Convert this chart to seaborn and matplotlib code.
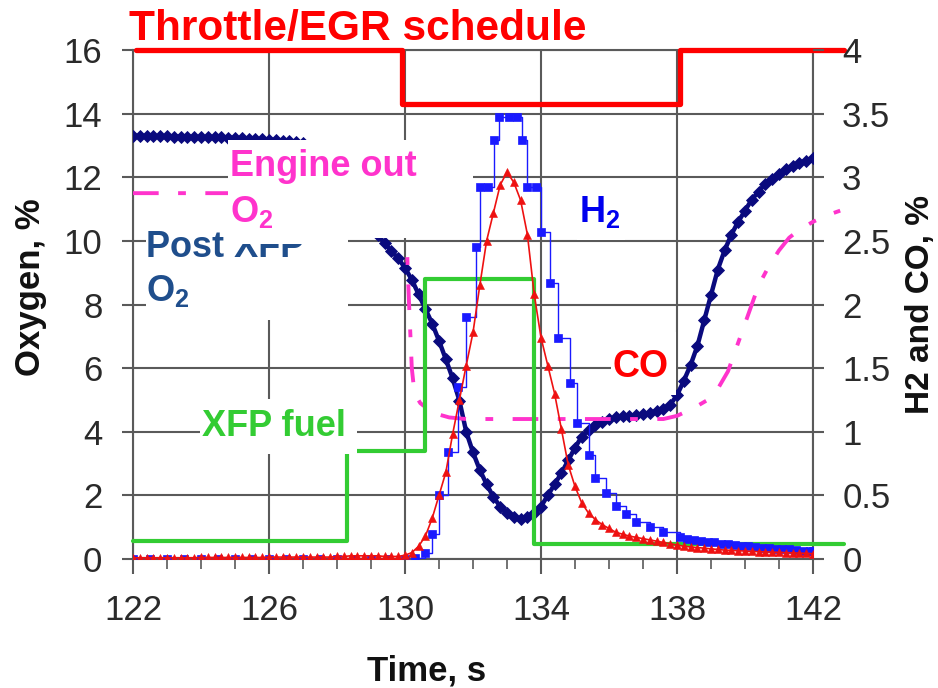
import numpy as np
import matplotlib
matplotlib.use("Agg")
import matplotlib.pyplot as plt
import seaborn as sns
from matplotlib.patches import Rectangle

# ---------------- data ----------------
# Post XFP O2 (left axis, %), sampled every 0.2 s from 122 s to 142 s
o2_post_time = np.round(np.arange(122.0, 142.001, 0.2), 1)
o2_post = [
    13.30, 13.30, 13.30, 13.29, 13.29,
    13.29, 13.28, 13.28, 13.27, 13.27,
    13.26, 13.26, 13.25, 13.25, 13.24,
    13.23, 13.22, 13.21, 13.20, 13.19,
    13.18, 13.17, 13.15, 13.13, 13.11,
    13.08, 12.92, 12.70, 12.45, 12.18,
    11.90, 11.62, 11.34, 11.06, 10.78,
    10.50, 10.20, 9.92, 9.68, 9.45,
    9.15, 8.78, 8.32, 7.86, 7.40,
    6.86, 6.28, 5.68, 4.98, 4.00,
    3.35, 2.80, 2.35, 1.95, 1.65,
    1.45, 1.32, 1.27, 1.32, 1.45,
    1.65, 2.00, 2.35, 2.70, 3.10,
    3.50, 3.85, 4.05, 4.20, 4.32,
    4.40, 4.45, 4.48, 4.50, 4.52,
    4.55, 4.60, 4.65, 4.72, 4.85,
    5.15, 5.60, 6.10, 6.70, 7.50,
    8.30, 9.10, 9.70, 10.20, 10.60,
    10.95, 11.30, 11.55, 11.80, 11.95,
    12.10, 12.25, 12.35, 12.45, 12.52,
    12.60,
]

# CO (right axis, %), same sampling
co_time = o2_post_time
co = [
    0.010, 0.010, 0.010, 0.010, 0.010,
    0.010, 0.010, 0.010, 0.010, 0.010,
    0.012, 0.012, 0.012, 0.012, 0.012,
    0.012, 0.012, 0.012, 0.012, 0.012,
    0.015, 0.015, 0.015, 0.015, 0.015,
    0.015, 0.015, 0.015, 0.015, 0.015,
    0.020, 0.020, 0.025, 0.025, 0.025,
    0.025, 0.025, 0.020, 0.020, 0.020,
    0.03, 0.05, 0.10, 0.18, 0.32,
    0.50, 0.68, 0.98, 1.25, 1.52,
    1.78, 2.15, 2.50, 2.72, 2.94,
    3.04, 2.96, 2.82, 2.55, 2.08,
    1.74, 1.52, 1.30, 1.02, 0.74,
    0.57, 0.44, 0.36, 0.31, 0.27,
    0.24, 0.21, 0.195, 0.18, 0.17,
    0.16, 0.15, 0.14, 0.13, 0.12,
    0.11, 0.10, 0.095, 0.09, 0.085,
    0.08, 0.075, 0.07, 0.068, 0.065,
    0.062, 0.06, 0.058, 0.056, 0.054,
    0.052, 0.05, 0.048, 0.046, 0.044,
    0.042,
]

# H2 (right axis, %), analyser output held between updates
h2_time = [122.0, 122.5, 123.0, 123.5, 124.0, 124.5, 125.0, 125.5, 126.0,
           126.5, 127.0, 127.5, 128.0, 128.5, 129.0, 129.5, 130.0, 130.3,
           130.6, 130.8, 131.0, 131.26, 131.56, 131.8, 132.1, 132.2, 132.45,
           132.62, 132.75, 133.05, 133.3, 133.45, 133.6, 133.85, 134.0,
           134.26, 134.5, 134.85, 135.06, 135.4, 135.6, 135.9, 136.2, 136.5,
           136.8, 137.2, 137.6, 138.1, 138.3, 138.5, 138.7, 138.9, 139.1,
           139.3, 139.5, 139.7, 139.9, 140.1, 140.3, 140.5, 140.7, 140.9,
           141.1, 141.3, 141.5, 141.7, 141.9, 142.0]
h2 = [0.0, 0.0, 0.0, 0.0, 0.0, 0.0, 0.0, 0.0, 0.0,
      0.0, 0.0, 0.0, 0.0, 0.0, 0.0, 0.0, 0.0, 0.01,
      0.05, 0.20, 0.50, 0.84, 1.35, 1.90, 2.45, 2.92, 2.92,
      3.29, 3.47, 3.47, 3.47, 3.29, 2.92, 2.92, 2.57,
      2.17, 1.74, 1.38, 1.07, 0.82, 0.64, 0.52, 0.42, 0.35,
      0.29, 0.25, 0.21, 0.17, 0.16, 0.15, 0.14, 0.135, 0.13,
      0.12, 0.115, 0.11, 0.105, 0.10, 0.095, 0.09, 0.085, 0.08,
      0.078, 0.075, 0.07, 0.066, 0.062, 0.06]

# Engine out O2 (left axis, %)
eo_time = [122.0, 129.95, 130.05, 130.12, 130.2, 130.28, 130.45, 130.8,
           131.3, 131.8, 137.6, 138.0, 138.5, 138.9, 139.2, 139.5, 139.8,
           140.1, 140.4, 140.7, 141.0, 141.3, 141.6, 142.0, 142.4, 142.8]
eo_o2 = [11.5, 11.5, 10.0, 8.0, 6.0, 5.2, 4.9, 4.6,
         4.45, 4.4, 4.4, 4.5, 4.75, 5.0, 5.35, 5.9, 6.8,
         7.7, 8.6, 9.2, 9.7, 10.1, 10.35, 10.6, 10.8, 10.95]

# XFP fuel schedule (arbitrary, plotted on left scale)
fuel_time = [122.0, 128.3, 130.6, 133.8, 142.9]
fuel = [0.57, 3.4, 8.8, 0.47, 0.47]

# Throttle / EGR schedule (arbitrary, plotted on left scale)
thr_time = [122.1, 129.9, 138.1, 142.9]
thr = [16.0, 14.3, 16.0, 16.0]

x_ticks = [122, 126, 130, 134, 138, 142]
x_minor = list(range(122, 143))
left_ticks = [0, 2, 4, 6, 8, 10, 12, 14, 16]
right_ticks = [0, 0.5, 1, 1.5, 2, 2.5, 3, 3.5, 4]
right_labels = ["0", "0.5", "1", "1.5", "2", "2.5", "3", "3.5", "4"]

# ---------------- style ----------------
sns.set_style("white")
plt.rcParams['font.family'] = ['Liberation Sans', 'DejaVu Sans']
plt.rcParams['mathtext.fontset'] = 'custom'
plt.rcParams['mathtext.rm'] = 'Liberation Sans:bold'
plt.rcParams['mathtext.bf'] = 'Liberation Sans:bold'
plt.rcParams['mathtext.it'] = 'Liberation Sans:bold'

W, H = 938, 688
L, R, T, B = 133, 813, 50, 559
fig = plt.figure(figsize=(W / 100, H / 100), dpi=100, facecolor='white')
ax = fig.add_axes([L / W, (H - B) / H, (R - L) / W, (B - T) / H])
ax2 = ax.twinx()


def fx(px):
    return (px - L) / (R - L)


def fy(py):
    return (B - py) / (B - T)


GRID = '#5a5a5a'
TICKC = '#2a2a2a'
NAVY = '#0a0a7e'
BLUE = '#1a1aff'
RED = '#ff0000'
GREEN = '#33cc33'
MAGENTA = '#ff33cc'

# ---------------- series ----------------
sns.lineplot(x=thr_time, y=thr, ax=ax, color=RED, lw=3.8,
             drawstyle='steps-post', estimator=None, sort=False, zorder=3)
ax.lines[-1].set_clip_on(False)

sns.lineplot(x=o2_post_time, y=o2_post, ax=ax, color=NAVY, lw=3.2,
             marker='D', markersize=6.2, markeredgewidth=0.6,
             markeredgecolor=NAVY, estimator=None, sort=False, zorder=3)

sns.lineplot(x=eo_time, y=eo_o2, ax=ax, color=MAGENTA, lw=2.8,
             estimator=None, sort=False, zorder=3)
ax.lines[-1].set_linestyle((0, (6.6, 5.0, 2.0, 5.0)))
ax.lines[-1].set_dash_capstyle('butt')
ax.lines[-1].set_clip_on(False)

sns.lineplot(x=fuel_time, y=fuel, ax=ax, color=GREEN, lw=3.0,
             drawstyle='steps-post', estimator=None, sort=False, zorder=3)
ax.lines[-1].set_clip_on(False)

sns.lineplot(x=h2_time, y=h2, ax=ax2, color=BLUE, lw=1.0,
             drawstyle='steps-post', marker='s', markersize=6,
             markeredgewidth=0.5, markeredgecolor=BLUE,
             estimator=None, sort=False, zorder=3)

sns.lineplot(x=co_time, y=co, ax=ax2, color='#ee1111', lw=1.2,
             marker='^', markersize=5.5, markeredgewidth=0.4,
             markeredgecolor='#ee1111', estimator=None, sort=False, zorder=4)

# ---------------- axes ----------------
ax.set_xlim(122, 142)
ax.set_ylim(0, 16)
ax2.set_ylim(0, 4)
ax.set_xticks(x_ticks)
ax.set_xticks(x_minor, minor=True)
ax.set_yticks(left_ticks)
ax2.set_yticks(right_ticks)
ax2.set_yticklabels(right_labels)
ax.set_xlabel('')
ax.set_ylabel('')
ax2.set_ylabel('')

ax.grid(True, which='major', axis='both', color=GRID, lw=1.5)
ax.set_axisbelow(True)
ax2.grid(False)

for sp in ax.spines.values():
    sp.set_visible(True)
    sp.set_color(GRID)
    sp.set_linewidth(1.5)
for sp in ax2.spines.values():
    sp.set_visible(False)

ax.tick_params(axis='x', which='major', bottom=True, length=11, width=1.5,
               color=GRID, labelsize=25, labelcolor=TICKC, pad=14)
ax.tick_params(axis='x', which='minor', bottom=True, length=7, width=1.2,
               color=GRID)
ax.tick_params(axis='y', which='major', left=True, length=8, width=1.5,
               color=GRID, labelsize=25, labelcolor=TICKC, pad=14)
ax2.tick_params(axis='y', which='major', right=True, left=False, length=8,
                width=1.5, color=GRID, labelsize=25, labelcolor=TICKC, pad=13)

# ---------------- annotation boxes ----------------
def white_box(x0, y0, x1, y1, z):
    ax.add_patch(Rectangle((fx(x0), fy(y1)), fx(x1) - fx(x0), fy(y0) - fy(y1),
                           transform=ax.transAxes, facecolor='white',
                           edgecolor='none', zorder=z, clip_on=False))


def label(px, py, s, color, size, z):
    ax.text(fx(px), fy(py), s, transform=ax.transAxes, ha='left',
            va='baseline', fontsize=size, fontweight='bold', color=color,
            zorder=z, clip_on=False)


POSTC = '#1f4e8c'
white_box(146, 222, 348, 320, 4)
label(146, 257, 'Post XFP', POSTC, 26, 4.5)
label(146, 301, 'O$_2$', POSTC, 26, 4.5)

white_box(228, 140, 473, 238, 5)
white_box(228, 238, 348, 244, 5)
label(230, 176, 'Engine out', MAGENTA, 26, 6)
label(230, 222, 'O$_2$', MAGENTA, 26, 6)

white_box(577, 185, 625, 240, 5)
label(579, 222, 'H$_2$', '#0000ee', 26, 6)

white_box(611, 332, 676, 395, 5)
label(612, 377, 'CO', RED, 27, 6)

white_box(200, 399, 357, 454, 5)
label(202, 436, 'XFP fuel', GREEN, 26, 6)

# ---------------- titles ----------------
fig.text(129 / W, 1 - 40 / H, 'Throttle/EGR schedule', color=RED,
         fontsize=30.5, fontweight='bold', ha='left', va='baseline')
fig.text(427 / W, 1 - 680 / H, 'Time, s', color='#111111', fontsize=25,
         fontweight='bold', ha='center', va='baseline')
fig.text(14 / W, 1 - 287 / H, 'Oxygen, %', color='#111111', fontsize=25,
         fontweight='bold', rotation=90, ha='left', va='center')
fig.text(936 / W, 1 - 304 / H, 'H2 and CO, %', color='#111111', fontsize=24,
         fontweight='bold', rotation=90, ha='right', va='center')

fig.savefig('out.png', dpi=100, facecolor='white')
